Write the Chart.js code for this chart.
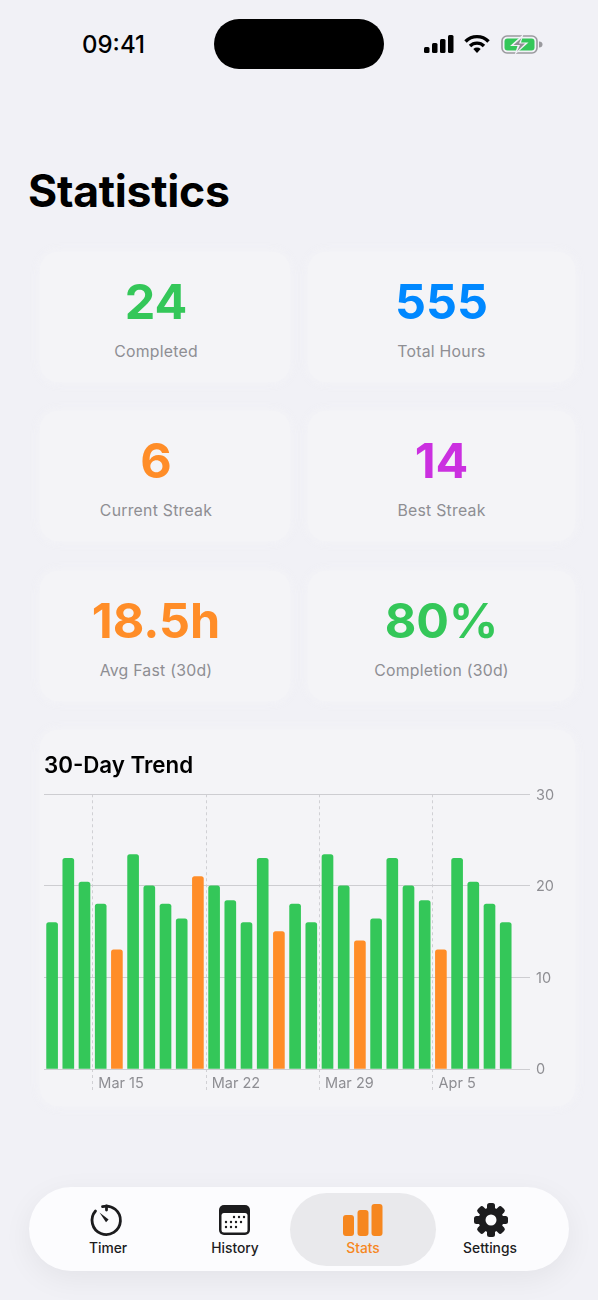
<!DOCTYPE html>
<html><head><meta charset="utf-8">
<script src="https://cdn.jsdelivr.net/npm/chart.js@4/dist/chart.umd.min.js"></script>
<style>
html,body{margin:0;padding:0;background:#F1F1F6;}
body{width:598px;height:1300px;position:relative;overflow:hidden;font-family:Inter,"Noto Sans",sans-serif;color:#000;}
.abs{position:absolute;}
#time{left:82px;top:30px;font-size:24px;font-weight:500;line-height:30px;}
#island{left:214px;top:19px;width:170px;height:50px;border-radius:25px;background:#000;}
h1{position:absolute;left:28px;top:164px;margin:0;font-size:44.6px;line-height:54px;font-weight:700;letter-spacing:-.3px;}
.card{position:absolute;background:#F4F4F7;border-radius:18px;box-shadow:0 0 10px 1px rgba(244,244,247,.9);text-align:center;}
.num{position:absolute;left:0;right:0;top:20px;font-size:48.5px;line-height:60px;font-weight:700;}
.lab{position:absolute;left:0;right:0;top:90px;font-size:15.8px;line-height:20px;color:#8E8E93;letter-spacing:.25px;}
#trendCard{left:40px;top:730px;width:535px;height:376px;}
#chartBox{position:absolute;left:0;top:730px;width:598px;height:380px;}
#tabbar{left:29px;top:1187px;width:540px;height:84px;border-radius:42px;background:#FCFCFE;box-shadow:0 8px 30px rgba(0,0,0,.06);}
#pill{left:290px;top:1193px;width:146px;height:73px;border-radius:36.5px;background:#E9E9EC;}
.tab{position:absolute;top:1240px;width:100px;margin-left:-50px;text-align:center;font-size:13.8px;line-height:17px;font-weight:500;color:#1c1c1e;}
svg{position:absolute;overflow:visible;}
</style></head>
<body>
<div class="abs" id="time">09:41</div>
<div class="abs" id="island"></div>
<svg style="left:424px;top:35px" width="30" height="18"><rect x="0" y="12" width="5.5" height="6" rx="1.5" fill="#000"/><rect x="8" y="8" width="5.5" height="10" rx="1.5" fill="#000"/><rect x="16" y="4" width="5.5" height="14" rx="1.5" fill="#000"/><rect x="24" y="0" width="5.5" height="18" rx="1.5" fill="#000"/></svg>
<svg style="left:464px;top:34px" width="26" height="19" fill="none" stroke="#000" stroke-width="3.4"><path d="M1.5 7.5 A16 16 0 0 1 24.5 7.5"/><path d="M6 12 A10 10 0 0 1 20 12"/><path d="M13 19 L9.3 15 A5.5 5.5 0 0 1 16.7 15 Z" fill="#000" stroke="none"/></svg>
<svg style="left:501px;top:35px" width="41" height="19"><rect x="1" y="1" width="35" height="17" rx="5" fill="none" stroke="#9a9a9e" stroke-width="1.6"/><rect x="3.5" y="3.5" width="30" height="12" rx="3" fill="#34C759"/><path d="M38 6.5 a3.5 3 0 0 1 0 6z" fill="#9a9a9e"/><path d="M22.5 -1 L9 11 H16.5 L13.5 20 L27.5 7.5 H20 Z" fill="#F1F1F6"/><path d="M20.5 3 L12.5 10 H19 L16 16.5 L24 8.5 H18 Z" fill="#8f8f93"/></svg>

<h1>Statistics</h1>
<div id="cards"></div>
<div class="card" id="trendCard" style="position:absolute"></div>
<div id="chartBox"><canvas id="trend" width="598" height="380" role="img" aria-label="30-Day Trend bar chart"></canvas></div>

<div class="abs" id="tabbar"></div>
<div class="abs" id="pill"></div>
<svg style="left:90px;top:1203px" width="34" height="34" fill="none"><path d="M12.5 3.6 A14.2 14.2 0 1 1 5.5 8" stroke="#1c1c1e" stroke-width="2.8" stroke-linecap="round"/><path d="M9.5 9.5 L18.6 16.6 L16 19.3 Z" fill="#1c1c1e"/><path d="M16.5 3 V7" stroke="#1c1c1e" stroke-width="2.8" stroke-linecap="round"/></svg>
<svg style="left:219px;top:1205px" width="31" height="30"><rect width="31" height="30" rx="5" fill="#1c1c1e"/><rect x="2.5" y="8" width="26" height="19.5" rx="2.5" fill="#fff"/><g fill="#1c1c1e"><circle cx="15" cy="12" r="1.2"/><circle cx="20" cy="12" r="1.2"/><circle cx="25" cy="12" r="1.2"/><circle cx="7" cy="17" r="1.2"/><circle cx="12" cy="17" r="1.2"/><circle cx="17" cy="17" r="1.2"/><circle cx="22" cy="17" r="1.2"/><circle cx="7" cy="22" r="1.2"/><circle cx="12" cy="22" r="1.2"/><circle cx="17" cy="22" r="1.2"/></g></svg>
<svg style="left:343px;top:1204px" width="40" height="32" fill="#F6871F"><rect x="0" y="11" width="11" height="21" rx="3"/><rect x="14.5" y="6" width="11" height="26" rx="3"/><rect x="28.5" y="0" width="11" height="32" rx="3"/></svg>
<svg style="left:474px;top:1203px" width="34" height="34"><g fill="#1c1c1e"><circle cx="17" cy="17" r="12.5"/><rect x="13" y="0" width="8" height="34" rx="2.5"/><rect x="13" y="0" width="8" height="34" rx="2.5" transform="rotate(45 17 17)"/><rect x="13" y="0" width="8" height="34" rx="2.5" transform="rotate(90 17 17)"/><rect x="13" y="0" width="8" height="34" rx="2.5" transform="rotate(135 17 17)"/></g><circle cx="17" cy="17" r="5.5" fill="#FCFCFE"/></svg>
<div class="tab" style="left:108px">Timer</div>
<div class="tab" style="left:235px">History</div>
<div class="tab" style="left:363px;color:#F6871F">Stats</div>
<div class="tab" style="left:490px">Settings</div>

<script>
const statValues = ["24","555","6","14","18.5h","80%"];
const statLabels = ["Completed","Total Hours","Current Streak","Best Streak","Avg Fast (30d)","Completion (30d)"];
const statColors = ["#34C759","#0088FF","#FF8D28","#CB30E0","#FF8D28","#34C759"];

const days = ["Mar 12","Mar 13","Mar 14","Mar 15","Mar 16","Mar 17","Mar 18","Mar 19","Mar 20","Mar 21",
  "Mar 22","Mar 23","Mar 24","Mar 25","Mar 26","Mar 27","Mar 28","Mar 29","Mar 30","Mar 31",
  "Apr 1","Apr 2","Apr 3","Apr 4","Apr 5","Apr 6","Apr 7","Apr 8","Apr 9","Apr 10"];
const hours = [16,23,20.4,18,13,23.4,20,18,16.4,21,
  20,18.4,16,23,15,18,16,23.4,20,14,
  16.4,23,20,18.4,13,23,20.4,18,16,null];
const shortDays = ["Mar 16","Mar 21","Mar 26","Mar 31","Apr 5"];
const labeledDays = ["Mar 15","Mar 22","Mar 29","Apr 5"];
const yTicks = [0,10,20,30];
const GREEN = "#34C759", ORANGE = "#FF8D28";

// stat cards
const cardTops = [252,252,411,411,571,571];
const host = document.getElementById("cards");
statValues.forEach((v,i)=>{
  const c = document.createElement("div");
  c.className = "card";
  const isRight = i%2===1;
  c.style.cssText = `left:${isRight?308:40}px;top:${cardTops[i]}px;width:${isRight?267:250}px;height:130px`;
  const shift = isRight ? 0 : -9;
  c.innerHTML = `<div class="num" style="color:${statColors[i]};transform:translateX(${shift}px)">${v}</div><div class="lab" style="transform:translateX(${shift}px)">${statLabels[i]}</div>`;
  host.appendChild(c);
});

new Chart(document.getElementById("trend"),{
  type:"bar",
  data:{labels:days,datasets:[{
    data:hours,
    backgroundColor:days.map(d=>shortDays.includes(d)?ORANGE:GREEN),
    barThickness:11,
    borderRadius:{topLeft:2.5,topRight:2.5,bottomLeft:0,bottomRight:0},
    borderSkipped:"bottom"
  }]},
  options:{
    responsive:false,animation:false,
    layout:{padding:{left:44,right:0,top:0,bottom:0}},
    plugins:{
      legend:{display:false},tooltip:{enabled:false},
      title:{display:true,text:"30-Day Trend",align:"start",color:"#000",
        font:{family:"Inter",size:22.3,weight:"600",lineHeight:1.2},
        padding:{top:23,bottom:14.5}}
    },
    scales:{
      x:{
        type:"category",offset:true,
        afterFit(s){s.height=41;},
        border:{display:false,dash:[3,3]},
        grid:{offset:true,tickLength:21,
          color:c=>labeledDays.includes(days[c.index])?"#D0D0D4":"transparent",
          tickColor:c=>labeledDays.includes(days[c.index])?"#D0D0D4":"transparent",
          tickBorderDash:[3,3],lineWidth:1},
        ticks:{autoSkip:false,maxRotation:0,minRotation:0,align:"start",padding:-15,labelOffset:-2.4,
          color:"#8E8E93",font:{family:"Inter",size:14.5},
          callback(v,i){const l=days[i];return labeledDays.includes(l)?l:"";}}
      },
      y:{
        position:"right",min:0,max:30,
        afterFit(s){s.width=68;},
        afterBuildTicks(s){s.ticks=yTicks.map(value=>({value}));},
        border:{display:false},
        grid:{color:"#CDCDD1",lineWidth:1,drawTicks:false},
        ticks:{padding:6,labelOffset:1,color:"#8E8E93",font:{family:"Inter",size:14.5}}
      }
    }
  }
});
</script>
</body></html>
